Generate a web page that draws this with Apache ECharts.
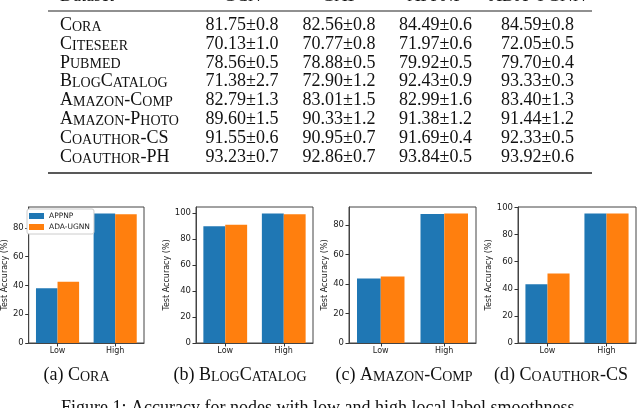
<!DOCTYPE html>
<html>
<head>
<meta charset="utf-8">
<script src="https://cdn.jsdelivr.net/npm/echarts@6/dist/echarts.min.js"></script>
<style>
html,body{margin:0;padding:0;background:#fff;}
#c{width:640px;height:408px;}
</style>
</head>
<body>
<div id="c"></div>
<script>
// ---- Table data ----
const header = ['Dataset', 'GCN', 'GAT', 'APPNP', 'ADA-UGNN'];
const datasets = ['Cora', 'Citeseer', 'Pubmed', 'BlogCatalog', 'Amazon-Comp', 'Amazon-Photo', 'Coauthor-CS', 'Coauthor-PH'];
const gcnMean = [81.75, 70.13, 78.56, 71.38, 82.79, 89.60, 91.55, 93.23];
const gcnStd = [0.8, 1.0, 0.5, 2.7, 1.3, 1.5, 0.6, 0.7];
const gatMean = [82.56, 70.77, 78.88, 72.90, 83.01, 90.33, 90.95, 92.86];
const gatStd = [0.8, 0.8, 0.5, 1.2, 1.5, 1.2, 0.7, 0.7];
const appnpMean = [84.49, 71.97, 79.92, 92.43, 82.99, 91.38, 91.69, 93.84];
const appnpStd = [0.6, 0.6, 0.5, 0.9, 1.6, 1.2, 0.4, 0.5];
const adaMean = [84.59, 72.05, 79.70, 93.33, 83.40, 91.44, 92.33, 93.92];
const adaStd = [0.8, 0.5, 0.4, 0.3, 1.3, 1.2, 0.5, 0.6];

// ---- Bar chart data ----
const groups = ['Low', 'High'];
const seriesNames = ['APPNP', 'ADA-UGNN'];
const panelLetters = ['a', 'b', 'c', 'd'];
const panelTitles = ['Cora', 'BlogCatalog', 'Amazon-Comp', 'Coauthor-CS'];
const appnpBars = [[38.0, 90.0], [89.7, 99.6], [43.6, 87.3], [43.3, 95.5]];
const adaBars = [[42.5, 89.5], [91.0, 99.1], [45.1, 87.7], [51.3, 95.5]];
const yMaxes = [94.5, 104.6, 92.1, 100.3];
const yTicks = [[0, 20, 40, 60, 80], [0, 20, 40, 60, 80, 100], [0, 20, 40, 60, 80], [0, 20, 40, 60, 80, 100]];
const figureCaption = 'Figure 1: Accuracy for nodes with low and high local label smoothness.';

// ---- Layout / style ----
const SERIF = "'Liberation Serif','DejaVu Serif',serif";
const SANS = "'DejaVu Sans',sans-serif";
const BIG = 18, SMALL = 14;
const richStyles = {
  b: {fontSize: BIG, fontFamily: SERIF, fill: '#111', color: '#111', lineHeight: BIG, verticalAlign: 'bottom'},
  s: {fontSize: SMALL, fontFamily: SERIF, fill: '#111', color: '#111', lineHeight: BIG, verticalAlign: 'bottom'}
};
function smallCaps(str) {
  let out = '';
  let cur = null, buf = '';
  for (const ch of str) {
    const t = (ch >= 'a' && ch <= 'z') ? 's' : 'b';
    const c = t === 's' ? ch.toUpperCase() : ch;
    if (t !== cur) {
      if (buf) out += '{' + cur + '|' + buf + '}';
      cur = t; buf = c;
    } else buf += c;
  }
  if (buf) out += '{' + cur + '|' + buf + '}';
  return out;
}
function fmt(m, s) { return m.toFixed(2) + '±' + s.toFixed(1); }

const colX = [242, 339, 435.5, 537.5];
const rowY0 = 25, rowStep = 18.9;
const graphics = [];
// rules
graphics.push({type: 'line', shape: {x1: 48, y1: 11, x2: 592, y2: 11}, style: {stroke: '#222', lineWidth: 1.2}});
graphics.push({type: 'line', shape: {x1: 48, y1: 173, x2: 592, y2: 173}, style: {stroke: '#222', lineWidth: 1.6}});
// header (cut off at the top edge)
const headY = -3.5;
graphics.push({type: 'text', x: 60, y: headY, style: {text: header[0], font: BIG + 'px ' + SERIF, fill: '#111', align: 'left', verticalAlign: 'middle'}});
for (let j = 1; j < header.length; j++) {
  graphics.push({type: 'text', x: colX[j - 1], y: headY, style: {text: header[j], font: BIG + 'px ' + SERIF, fill: '#111', align: 'center', verticalAlign: 'middle'}});
}
const means = [gcnMean, gatMean, appnpMean, adaMean];
const stds = [gcnStd, gatStd, appnpStd, adaStd];
datasets.forEach((d, i) => {
  const y = rowY0 + rowStep * i;
  graphics.push({type: 'text', x: 60, y: y, style: {text: smallCaps(d), rich: richStyles, align: 'left', verticalAlign: 'middle'}});
  for (let j = 0; j < 4; j++) {
    graphics.push({type: 'text', x: colX[j], y: y, style: {text: fmt(means[j][i], stds[j][i]), font: BIG + 'px ' + SERIF, fill: '#111', align: 'center', verticalAlign: 'middle'}});
  }
});
// sub captions
const capX = [76.5, 240, 404, 561];
panelTitles.forEach((t, k) => {
  graphics.push({type: 'text', x: capX[k], y: 375, style: {text: '{b|(' + panelLetters[k] + ') }' + smallCaps(t), rich: richStyles, align: 'center', verticalAlign: 'middle'}});
});
graphics.push({type: 'text', x: 320, y: 408, style: {text: figureCaption, font: BIG + 'px ' + SERIF, fill: '#111', align: 'center', verticalAlign: 'middle'}});

// ---- Grids ----
const gridBoxes = [
  {left: 23, width: 121},
  {left: 196, width: 117},
  {left: 349, width: 127},
  {left: 518, width: 118}
];
const nameGaps = [13.5, 23, 14, 19];
const grids = [], xAxes = [], yAxes = [], series = [];
gridBoxes.forEach((g, k) => {
  grids.push({left: g.left, width: g.width, top: 207, height: 136, show: true, borderColor: '#444', borderWidth: 1, backgroundColor: 'transparent', containLabel: false});
  xAxes.push({
    type: 'category', gridIndex: k, data: groups,
    axisLine: {show: true, lineStyle: {color: '#444', width: 1}},
    axisTick: {show: true, alignWithLabel: true, length: 3.5, lineStyle: {color: '#333'}},
    axisLabel: {fontFamily: SANS, fontSize: 8, color: '#222', margin: 4}
  });
  yAxes.push({
    type: 'value', gridIndex: k, min: 0, max: yMaxes[k], interval: 20,
    name: 'Test Accuracy (%)', nameLocation: 'middle', nameGap: nameGaps[k],
    nameTextStyle: {fontFamily: SANS, fontSize: 8, color: '#222'},
    splitLine: {show: false},
    axisLine: {show: true, lineStyle: {color: '#444', width: 1}},
    axisTick: {show: true, length: 3.5, lineStyle: {color: '#333'}, customValues: yTicks[k]},
    axisLabel: {fontFamily: SANS, fontSize: 8.5, color: '#222', margin: 5, customValues: yTicks[k]}
  });
  series.push({
    type: 'bar', name: seriesNames[0], xAxisIndex: k, yAxisIndex: k, data: appnpBars[k],
    barWidth: '37.4%', barGap: '0%', itemStyle: {color: '#1f77b4'}, silent: true
  });
  series.push({
    type: 'bar', name: seriesNames[1], xAxisIndex: k, yAxisIndex: k, data: adaBars[k],
    barWidth: '37.4%', barGap: '0%', itemStyle: {color: '#ff7f0e'}, silent: true
  });
});

const chart = echarts.init(document.getElementById('c'), null, {renderer: 'canvas'});
chart.setOption({
  animation: false,
  backgroundColor: '#fff',
  grid: grids,
  xAxis: xAxes,
  yAxis: yAxes,
  legend: {
    data: seriesNames, orient: 'vertical', left: 27, top: 209,
    itemWidth: 15, itemHeight: 6, itemGap: 3, icon: 'rect',
    padding: [3, 4, 3, 2],
    borderColor: '#ccc', borderWidth: 1, borderRadius: 2, backgroundColor: '#fff',
    textStyle: {fontFamily: SANS, fontSize: 7.5, color: '#222'},
    selectedMode: false
  },
  series: series,
  graphic: graphics
});
</script>
</body>
</html>
